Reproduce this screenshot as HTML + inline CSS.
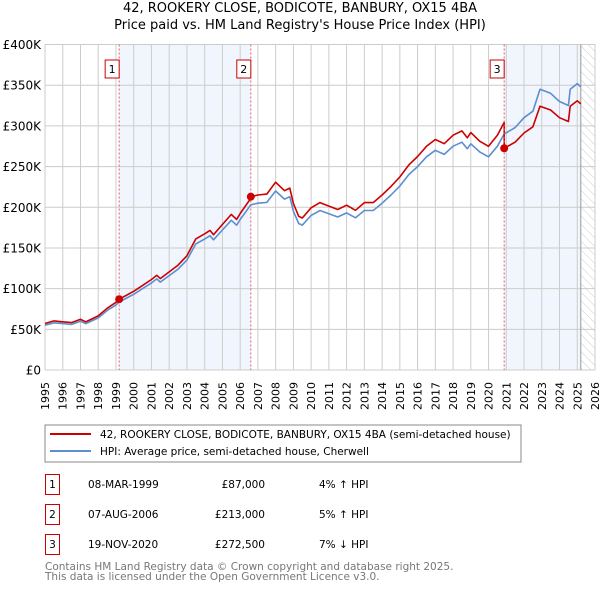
<!DOCTYPE html>
<html><head><meta charset="utf-8"><style>
body{margin:0;background:#fff;font-family:"DejaVu Sans","Liberation Sans",sans-serif;}
svg text{font-family:"DejaVu Sans","Liberation Sans",sans-serif;}
</style></head><body>
<svg id="c" width="600" height="590" xmlns="http://www.w3.org/2000/svg">
<defs><pattern id="hatch" width="6" height="6" patternUnits="userSpaceOnUse" patternTransform="rotate(-45)"><line x1="0" y1="0" x2="0" y2="6" stroke="#ccc" stroke-width="1"/></pattern></defs>
<text x="300" y="12" text-anchor="middle" font-size="13" fill="#000">42, ROOKERY CLOSE, BODICOTE, BANBURY, OX15 4BA</text>
<text x="300" y="29" text-anchor="middle" font-size="13" fill="#000">Price paid vs. HM Land Registry's House Price Index (HPI)</text>
<g id="bg"></g><g id="grid"></g><g id="lines"></g><g id="marks"></g><g id="axes"></g>
<rect x="45" y="425" width="476" height="37" fill="#fff" stroke="#888"/>
<line x1="50" y1="434" x2="91" y2="434" stroke="#cc0000" stroke-width="2"/>
<text x="100" y="438" font-size="10.5">42, ROOKERY CLOSE, BODICOTE, BANBURY, OX15 4BA (semi-detached house)</text>
<line x1="50" y1="451" x2="91" y2="451" stroke="#5b8fd0" stroke-width="2"/>
<text x="100" y="455" font-size="10.5">HPI: Average price, semi-detached house, Cherwell</text>
<g id="table" font-size="10.5"></g>
<text x="45" y="570" font-size="10.5" fill="#777">Contains HM Land Registry data © Crown copyright and database right 2025.</text>
<text x="45" y="580" font-size="10.5" fill="#777">This data is licensed under the Open Government Licence v3.0.</text>
</svg>
<script>
const hpiYears=[1995,1995.5,1996,1996.5,1997,1997.3,1997.5,1998,1998.5,1999,1999.18,2000,2000.5,2001,2001.3,2001.5,2002,2002.5,2003,2003.5,2004,2004.3,2004.5,2005,2005.5,2005.8,2006,2006.6,2007,2007.5,2008,2008.5,2008.8,2009,2009.3,2009.5,2010,2010.5,2011,2011.5,2012,2012.5,2013,2013.5,2014,2014.5,2015,2015.5,2016,2016.5,2017,2017.5,2018,2018.5,2018.8,2019,2019.5,2020,2020.5,2020.88,2021.5,2022,2022.5,2022.9,2023.5,2024,2024.5,2024.6,2025,2025.2];
const hpiValues=[55,58,57,56,60,57,59,64,73,80,83.7,93,100,107,112,108,116,124,135,155,161,165,160,172,184,178,185,203,205,206,220,210,213,195,180,178,190,196,192,188,193,187,196,196,205,215,226,240,250,262,270,265,275,280,272,278,268,262,275,290,298,310,318,345,340,330,325,345,352,348];
const saleLabels=["1","2","3"];
const saleYears=[1999.18,2006.6,2020.88];
const salePrices=[87,213,272.5];
const saleDates=["08-MAR-1999","07-AUG-2006","19-NOV-2020"];
const salePriceText=["£87,000","£213,000","£272,500"];
const saleHpiText=["4% ↑ HPI","5% ↑ HPI","7% ↓ HPI"];
const yTicks=[0,50,100,150,200,250,300,350,400];
const yTickLabels=["£0","£50K","£100K","£150K","£200K","£250K","£300K","£350K","£400K"];
const dataEnd=2025.2;
const NS="http://www.w3.org/2000/svg";
const X0=45,X1=595,Y0=370,Y1=44.5,YR0=1995,YR1=2026;
const x=t=>X0+(t-YR0)/(YR1-YR0)*(X1-X0);
const y=v=>Y0-v/400*(Y0-Y1);
function mk(p,tag,a){const e=document.createElementNS(NS,tag);for(const k in a)e.setAttribute(k,a[k]);document.getElementById(p).appendChild(e);return e;}
function hpiAt(t){for(let i=0;i<hpiYears.length-1;i++){if(t<=hpiYears[i+1]){const f=(t-hpiYears[i])/(hpiYears[i+1]-hpiYears[i]);return hpiValues[i]+f*(hpiValues[i+1]-hpiValues[i]);}}return hpiValues[hpiValues.length-1];}
let e;
e=mk('bg','rect',{x:X0,y:Y1,width:X1-X0,height:Y0-Y1,fill:'#fff'});


e=mk('bg','rect',{x:x(saleYears[0]),y:Y1,width:x(saleYears[1])-x(saleYears[0]),height:Y0-Y1,fill:'#eef3fc',opacity:0.8});


e=mk('bg','rect',{x:x(saleYears[2]),y:Y1,width:x(dataEnd)-x(saleYears[2]),height:Y0-Y1,fill:'#eef3fc',opacity:0.8});


e=mk('bg','rect',{x:x(dataEnd),y:Y1,width:X1-x(dataEnd),height:Y0-Y1,fill:'url(#hatch)'});


for(let yr=YR0;yr<=YR1;yr++){
 e=mk('grid','line',{x1:x(yr),x2:x(yr),y1:Y1,y2:Y0,stroke:'#ccc','stroke-width':1});
 
 
 e=mk('axes','text',{x:0,y:0,'font-size':11,'text-anchor':'end',transform:`translate(${x(yr)+4},${Y0+12}) rotate(-90)`});
 e.textContent=yr;
 
 
}
yTicks.forEach((v,i)=>{
 e=mk('grid','line',{x1:X0,x2:X1,y1:y(v),y2:y(v),stroke:'#ccc','stroke-width':1});
 
 
 e=mk('axes','text',{x:X0-4,y:y(v)+4.5,'font-size':12,'text-anchor':'end'});
 e.textContent=yTickLabels[i];
 
 
});
e=mk('grid','line',{x1:x(dataEnd),x2:x(dataEnd),y1:Y1,y2:Y0,stroke:'#999','stroke-width':1});


let d='';hpiYears.forEach((t,i)=>{d+=(i?'L':'M')+x(t).toFixed(1)+','+y(hpiValues[i]).toFixed(1);});
e=mk('lines','path',{d,fill:'none',stroke:'#5b8fd0','stroke-width':1.6,'stroke-linejoin':'round'});


function segIdx(t){let k=0;for(let j=0;j<saleYears.length;j++)if(t>=saleYears[j])k=j;return k;}
const pts=[];hpiYears.forEach((t,i)=>{
 const k=segIdx(t);
 if(i>0){const kp=segIdx(hpiYears[i-1]);if(kp!==k){const r=salePrices[kp]/hpiAt(saleYears[kp]);pts.push([saleYears[k],hpiAt(saleYears[k])*r]);pts.push([saleYears[k],salePrices[k]]);}}
 const r=salePrices[k]/hpiAt(saleYears[k]);pts.push([t,hpiValues[i]*r]);
});
d='';pts.forEach((p,i)=>{d+=(i?'L':'M')+x(p[0]).toFixed(1)+','+y(p[1]).toFixed(1);});
e=mk('lines','path',{d,fill:'none',stroke:'#cc0000','stroke-width':1.6,'stroke-linejoin':'round'});


saleYears.forEach((t,i)=>{
 e=mk('marks','line',{x1:x(t),x2:x(t),y1:Y1,y2:Y0,stroke:'#e06060','stroke-width':1,'stroke-dasharray':'2,2'});
 
 
 e=mk('marks','circle',{cx:x(t),cy:y(salePrices[i]),r:4,fill:'#cc0000'});
 
 
 e=mk('marks','rect',{x:x(t)-14,y:60,width:14,height:18,fill:'#fff',stroke:'#cc0000','stroke-width':1});
 
 
 e=mk('marks','text',{x:x(t)-7,y:73,'font-size':11,'text-anchor':'middle'});
 e.textContent=saleLabels[i];
 
 
 const cy=484+30*i;
 e=mk('table','rect',{x:45.5,y:cy-9.5,width:14,height:20,fill:'#fff',stroke:'#cc0000'});
 
 
 e=mk('table','text',{x:52.5,y:cy+4,'text-anchor':'middle'});e.textContent=saleLabels[i];
 
 
 e=mk('table','text',{x:88,y:cy+4});e.textContent=saleDates[i];
 
 
 e=mk('table','text',{x:265,y:cy+4,'text-anchor':'end'});e.textContent=salePriceText[i];
 
 
 e=mk('table','text',{x:319,y:cy+4});e.textContent=saleHpiText[i];
 
 
});
</script>
</body></html>
